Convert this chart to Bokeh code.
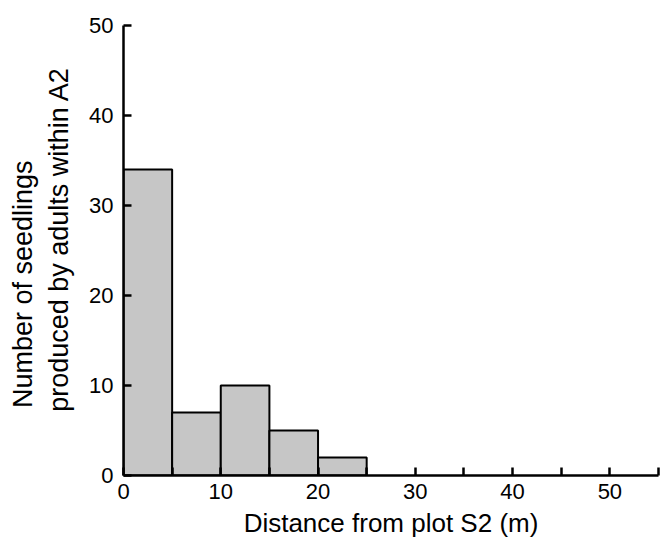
from bokeh.plotting import figure
from bokeh.models import FixedTicker, Range1d, ColumnDataSource
from bokeh.embed import file_html
from bokeh.resources import INLINE

bin_left = [0, 5, 10, 15, 20]
bin_right = [5, 10, 15, 20, 25]
counts = [34, 7, 10, 5, 2]
x_ticks = [0, 10, 20, 30, 40, 50]
x_minor = [5, 15, 25, 35, 45, 55]
y_ticks = [0, 10, 20, 30, 40, 50]
y_label_lines = ["Number of seedlings", "produced by adults within A2"]

src = ColumnDataSource(dict(left=bin_left, right=bin_right, top=counts, bottom=[0]*len(counts)))

p = figure(width=667, height=540, output_backend="svg", toolbar_location=None,
           x_range=Range1d(0, 55), y_range=Range1d(0, 50),
           min_border_left=123, min_border_right=9, min_border_top=25, min_border_bottom=65)
p.quad(left="left", right="right", top="top", bottom="bottom", source=src,
       fill_color="#c6c6c6", line_color="black", line_width=2)

p.outline_line_color = None
p.grid.visible = False

font = "Liberation Sans"
p.xaxis.ticker = FixedTicker(ticks=x_ticks, minor_ticks=x_minor)
p.yaxis.ticker = FixedTicker(ticks=y_ticks, minor_ticks=[])
for ax in (p.xaxis, p.yaxis):
    ax.axis_line_width = 2.5
    ax.axis_line_color = "black"
    ax.major_tick_in = 8
    ax.major_tick_out = 0
    ax.major_tick_line_width = 2.5
    ax.major_tick_line_color = "black"
    ax.minor_tick_in = 8
    ax.minor_tick_out = 0
    ax.minor_tick_line_width = 2.5
    ax.minor_tick_line_color = "black"
    ax.major_label_text_font = font
    ax.major_label_text_font_size = "22px"
    ax.major_label_text_color = "black"
    ax.axis_label_text_font = font
    ax.axis_label_text_font_style = "normal"
    ax.axis_label_text_color = "black"

p.xaxis.axis_label_text_font_size = "26px"
p.yaxis.axis_label_text_font_size = "27px"
p.xaxis.major_label_standoff = 8
p.yaxis.major_label_standoff = 10
p.xaxis.axis_label = "Distance from plot S2 (m)"
p.xaxis.axis_label_standoff = 6

# two-line y label, left-justified (padding with non-breaking spaces)
nb = "\u00a0"
p.yaxis.axis_label = (nb * 3 + y_label_lines[0] + nb * 12 + "\n" + nb * 3 + y_label_lines[1])
p.yaxis.axis_label_standoff = 12

open("out.html", "w").write(file_html(p, INLINE))
